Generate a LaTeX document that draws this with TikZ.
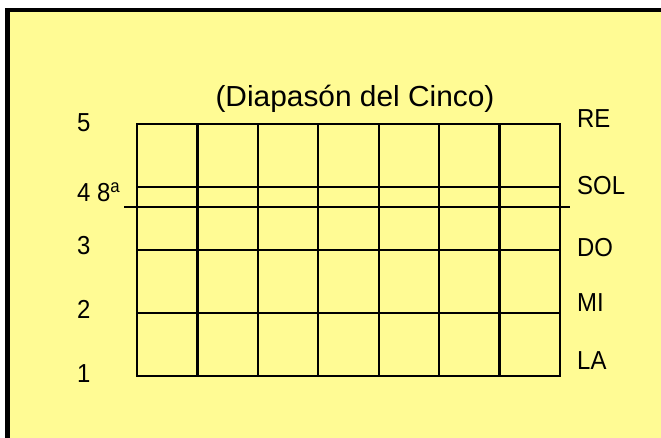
\documentclass[tikz,border=0pt]{standalone}
\usepackage{fontspec}
\setmainfont{Liberation Sans}
\definecolor{fondo}{HTML}{FFFB94}

\begin{document}
\begin{tikzpicture}[x=1pt,y=-1pt,
  linea/.style={line width=2.2pt},
  etiq/.style={anchor=base west,inner sep=0pt,font=\fontsize{26}{26}\selectfont}]
  \useasboundingbox (0,0) rectangle (661,438);
  \fill[white] (0,0) rectangle (661,438);
  \fill[fondo] (5,8) rectangle (661,438);
  \draw[line width=4.5pt] (7.25,438) -- (7.25,10.25) -- (661,10.25);

  % diapason
  \coordinate (NO) at (137,124);
  \coordinate (SE) at (560,376);
  \draw[linea] (NO) rectangle (SE);
  \foreach \x in {1,...,6}
    \draw[linea] (137+\x*60.43,124) -- (137+\x*60.43,376);
  \foreach \y in {187,250,313}
    \draw[linea] (137,\y) -- (560,\y);
  \draw[linea] (124,207) -- (570,207);

  \node[anchor=base,inner sep=0pt,font=\fontsize{29}{29}\selectfont] (titulo) at (355,107)
    {\scalebox{1.03}[1]{(Diapasón del Cinco)}};

  % trastes
  \node[etiq] (t5) at (77,132) {\scalebox{0.92}[1]{5}};
  \node[etiq] (t4) at (77,202) {\scalebox{0.92}[1]{4 8\textsuperscript{a}}};
  \node[etiq] (t3) at (77,255) {\scalebox{0.92}[1]{3}};
  \node[etiq] (t2) at (77,318) {\scalebox{0.92}[1]{2}};
  \node[etiq] (t1) at (77,382) {\scalebox{0.92}[1]{1}};

  % cuerdas
  \node[etiq] (re) at (577,128) {\scalebox{0.92}[1]{RE}};
  \node[etiq] (sol) at (577,195) {\scalebox{0.92}[1]{SOL}};
  \node[etiq] (do) at (577,257) {\scalebox{0.92}[1]{DO}};
  \node[etiq] (mi) at (577,311) {\scalebox{0.92}[1]{MI}};
  \node[etiq] (la) at (577,369) {\scalebox{0.92}[1]{LA}};
\end{tikzpicture}
\end{document}
